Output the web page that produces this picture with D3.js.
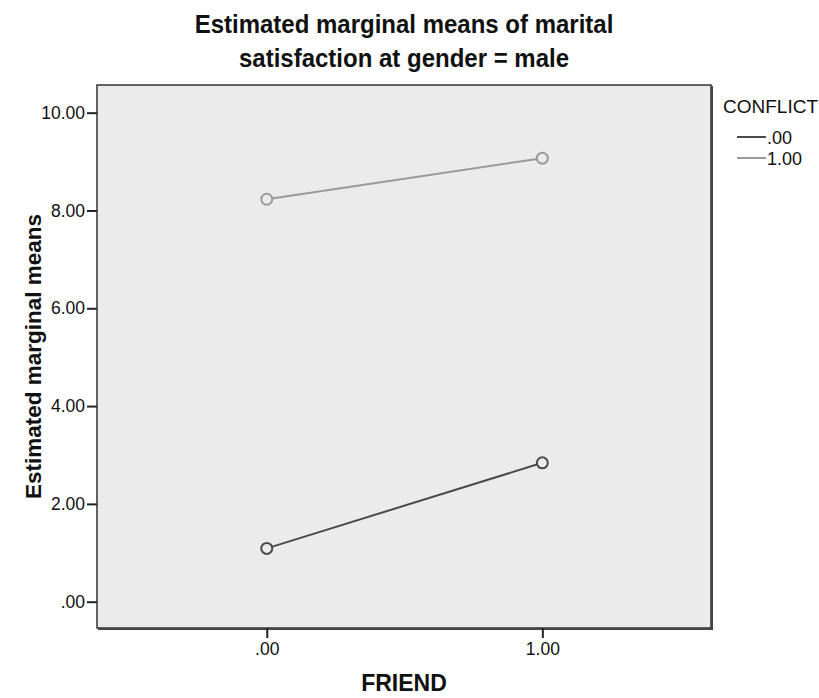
<!DOCTYPE html>
<html><head><meta charset="utf-8">
<script src="https://cdn.jsdelivr.net/npm/d3@7"></script>
<style>body{margin:0;background:#fff;} text{font-family:"Liberation Sans",Arial,sans-serif;}</style>
</head><body>
<svg id="c" width="819" height="698"></svg>
<script>
const friendLevels = [0, 1];
const friendTickLabels = [".00", "1.00"];
const yTickValues = [0, 2, 4, 6, 8, 10];
const yTickLabels = [".00", "2.00", "4.00", "6.00", "8.00", "10.00"];
const conflictLevels = [".00", "1.00"];
const conflict0Means = [1.09, 2.84];
const conflict1Means = [8.23, 9.07];
const seriesColors = ["#4a4a4a", "#9a9a9a"];

const svg = d3.select("#c");
const L = 97, R = 711, T = 85, B = 628;
const x = d3.scaleLinear().domain([-0.616, 1.612]).range([L, R]);
const y = d3.scaleLinear().domain([-0.538, 10.566]).range([B, T]);

// plot background
svg.append("rect").attr("x", L).attr("y", T).attr("width", R - L).attr("height", B - T)
  .attr("fill", "#ebebeb").attr("stroke", "#333").attr("stroke-width", 1.5);
// shadow on right / bottom
svg.append("path").attr("d", `M${R+1},${T+1}V${B+1}H${L+1}`).attr("fill", "none")
  .attr("stroke", "#444").attr("stroke-width", 2);

// y axis
const yAxis = d3.axisLeft(y).tickValues(yTickValues)
  .tickFormat((d, i) => yTickLabels[i]).tickSize(10).tickPadding(2);
const gy = svg.append("g").attr("transform", `translate(${L},0)`).call(yAxis);
gy.select(".domain").remove();
gy.selectAll("line").attr("stroke", "#222").attr("stroke-width", 2);
gy.selectAll("text").attr("font-size", 17.5).attr("fill", "#111");

// x axis
const xAxis = d3.axisBottom(x).tickValues(friendLevels)
  .tickFormat((d, i) => friendTickLabels[i]).tickSize(10).tickPadding(5);
const gx = svg.append("g").attr("transform", `translate(0,${B})`).call(xAxis);
gx.select(".domain").remove();
gx.selectAll("line").attr("stroke", "#222").attr("stroke-width", 2);
gx.selectAll("text").attr("font-size", 17.5).attr("fill", "#111");

// series
const series = [conflict0Means, conflict1Means];
series.forEach((vals, si) => {
  const pts = friendLevels.map((f, i) => [f, vals[i]]);
  svg.append("path").datum(pts)
    .attr("d", d3.line().x(d => x(d[0])).y(d => y(d[1])))
    .attr("fill", "none").attr("stroke", seriesColors[si]).attr("stroke-width", 2);
  svg.selectAll(null).data(pts).enter().append("circle")
    .attr("cx", d => x(d[0])).attr("cy", d => y(d[1])).attr("r", 5.5)
    .attr("fill", "#ebebeb").attr("stroke", seriesColors[si]).attr("stroke-width", 2);
});

// titles
const cx = (L + R) / 2;
svg.append("text").attr("transform", `translate(${cx},33) scale(1,1.1)`).attr("text-anchor", "middle")
  .attr("font-size", 24).attr("font-weight", "bold").attr("fill", "#111")
  .text("Estimated marginal means of marital");
svg.append("text").attr("transform", `translate(${cx},67) scale(1,1.1)`).attr("text-anchor", "middle")
  .attr("font-size", 24).attr("font-weight", "bold").attr("fill", "#111")
  .text("satisfaction at gender = male");
svg.append("text").attr("x", cx).attr("y", 691).attr("text-anchor", "middle")
  .attr("font-size", 23).attr("font-weight", "bold").attr("fill", "#111")
  .text("FRIEND");
svg.append("text").attr("transform", `translate(41,${(T + B) / 2}) rotate(-90)`)
  .attr("text-anchor", "middle")
  .attr("font-size", 22.5).attr("font-weight", "bold").attr("fill", "#111")
  .text("Estimated marginal means");

// legend
svg.append("text").attr("x", 723).attr("y", 113).attr("font-size", 19).attr("fill", "#111").text("CONFLICT");
conflictLevels.forEach((lab, i) => {
  const ly = 137 + i * 21;
  svg.append("line").attr("x1", 737).attr("x2", 766).attr("y1", ly).attr("y2", ly)
    .attr("stroke", seriesColors[i]).attr("stroke-width", 2);
  svg.append("text").attr("x", 767).attr("y", ly + 7).attr("font-size", 18).attr("fill", "#111").text(lab);
});
</script>
</body></html>
